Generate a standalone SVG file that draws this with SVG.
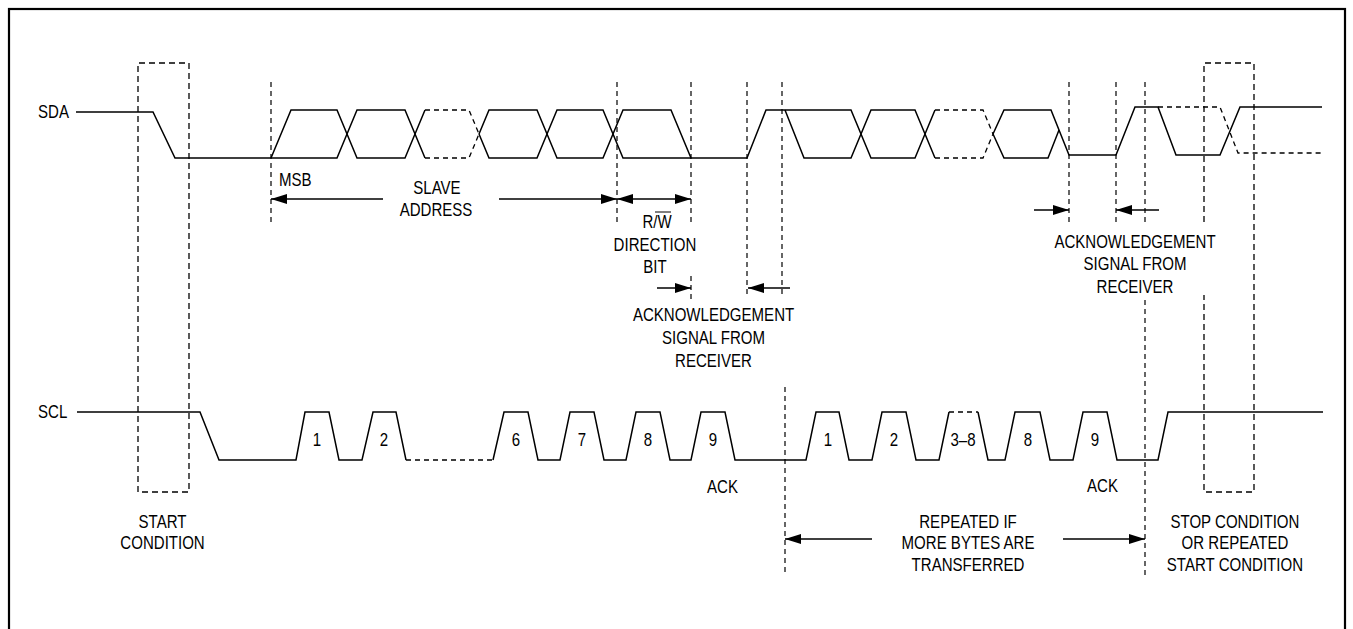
<svg xmlns="http://www.w3.org/2000/svg" width="1353" height="629" viewBox="0 0 1353 629">
<style>
.w{fill:none;stroke:#000;stroke-width:1.5;stroke-linejoin:miter}
.wd{fill:none;stroke:#000;stroke-width:1.3;stroke-dasharray:5 4}
.g{fill:none;stroke:#000;stroke-width:1.2;stroke-dasharray:5 4}
.bx{fill:none;stroke:#000;stroke-width:1.3;stroke-dasharray:6 4}
.a{fill:none;stroke:#000;stroke-width:1.3}
text{font-family:"Liberation Sans",Arial,sans-serif;font-size:17.5px;fill:#000}
.c{text-anchor:middle}
</style>
<defs>
<marker id="ah" viewBox="0 0 16 10" refX="16" refY="5" markerWidth="16" markerHeight="10" markerUnits="userSpaceOnUse" orient="auto-start-reverse">
<path d="M0,0 L16,5 L0,10 z" fill="#000"/>
</marker>
</defs>
<rect id="frame" x="9" y="9" width="1336" height="640" fill="#fff" stroke="#000" stroke-width="2.2"/>

<g id="start-box">
<path class="bx" d="M138,492 V63 H189 V492 H138"/>
</g>
<g id="stop-box">
<path class="bx" d="M1204,222 V63 H1254 V492 H1204 V295"/>
</g>

<g id="guides">
<line class="g" x1="271" y1="82" x2="271" y2="222"/>
<line class="g" x1="617" y1="82" x2="617" y2="222"/>
<line class="g" x1="691" y1="82" x2="691" y2="222"/>
<line class="g" x1="691" y1="276" x2="691" y2="302"/>
<line class="g" x1="747" y1="82" x2="747" y2="298"/>
<line class="g" x1="782" y1="82" x2="782" y2="298"/>
<line class="g" x1="785" y1="387" x2="785" y2="575"/>
<line class="g" x1="1069" y1="82" x2="1069" y2="223"/>
<line class="g" x1="1116" y1="82" x2="1116" y2="223"/>
<line class="g" x1="1145" y1="82" x2="1145" y2="223"/>
<line class="g" x1="1145" y1="300" x2="1145" y2="575"/>
</g>

<g id="sda">
<path class="w" d="M76,112 H153 L175,158 H337 L357,110 H405 L425,158"/>
<path class="w" d="M271,158 L291,110 H337 L357,158 H405 L425,110"/>
<path class="wd" d="M425,110 H469 L479,134 M425,158 H469 L479,134"/>
<path class="w" d="M479,134 L489,110 H537 L557,158 H603 L623,110 H671 L691,158 H747 L766,110 H851 L871,158 H915 L935,110"/>
<path class="w" d="M479,134 L489,158 H537 L557,110 H603 L623,158 H691"/>
<path class="w" d="M785,110 L804,158 H851 L871,110 H915 L935,158"/>
<path class="wd" d="M935,110 H983 L993,134 M935,158 H983 L993,134"/>
<path class="w" d="M993,134 L1004,110 H1051 L1069,155 H1116 L1135,107 H1158 L1176,155 H1220 L1240,107 H1322"/>
<path class="w" d="M993,134 L1004,158 H1048 L1059,130"/>
<path class="wd" d="M1158,107 H1220 L1238,153 H1322"/>
<text transform="scale(0.86,1)" x="44.2" y="118">SDA</text>
</g>

<g id="scl">
<path class="w" d="M77,412 H200 L219,460 H296 L305,412 H329 L339,460 H362 L373,412 H396 L406,460"/>
<path class="wd" d="M406,460 H493"/>
<path class="w" d="M493,460 L504,412 H528 L538,460 H560 L570,412 H594 L604,460 H626 L636,412 H660 L670,460 H691 L701,412 H725 L735,460 H806 L816,412 H839 L849,460 H872 L882,412 H906 L916,460 H939 L949,412"/>
<path class="wd" d="M949,412 H978"/>
<path class="w" d="M978,412 L988,460 H1005 L1015,412 H1040 L1050,460 H1073 L1083,412 H1107 L1117,460 H1158 L1168,412 H1323"/>
<g id="scl-texts" transform="scale(0.86,1)">
<text x="44.2" y="418">SCL</text>
<text class="c" x="368.6" y="446">1</text>
<text class="c" x="446.5" y="446">2</text>
<text class="c" x="600" y="446">6</text>
<text class="c" x="676.7" y="446">7</text>
<text class="c" x="753.5" y="446">8</text>
<text class="c" x="829.1" y="446">9</text>
<text class="c" x="962.8" y="446">1</text>
<text class="c" x="1039.5" y="446">2</text>
<text class="c" x="1119.8" y="446">3–8</text>
<text class="c" x="1195.3" y="446">8</text>
<text class="c" x="1273.3" y="446">9</text>
</g>
</g>

<g id="connectors">
<line class="a" x1="383" y1="199" x2="271" y2="199" marker-end="url(#ah)"/>
<line class="a" x1="499" y1="199" x2="617" y2="199" marker-end="url(#ah)"/>
<line class="a" x1="617" y1="199" x2="691" y2="199" marker-start="url(#ah)" marker-end="url(#ah)"/>
<line class="a" x1="657" y1="288" x2="691" y2="288" marker-end="url(#ah)"/>
<line class="a" x1="790" y1="288" x2="748" y2="288" marker-end="url(#ah)"/>
<line class="a" x1="1034" y1="210" x2="1069" y2="210" marker-end="url(#ah)"/>
<line class="a" x1="1159" y1="210" x2="1116" y2="210" marker-end="url(#ah)"/>
<line class="a" x1="872" y1="539" x2="785" y2="539" marker-end="url(#ah)"/>
<line class="a" x1="1063" y1="539" x2="1145" y2="539" marker-end="url(#ah)"/>
</g>

<g id="labels">
<line x1="655" y1="212" x2="671" y2="212" stroke="#000" stroke-width="1"/>
<g transform="scale(0.86,1)">
<text x="324.4" y="186.5">MSB</text>
<text class="c" x="508.1" y="194">SLAVE</text>
<text class="c" x="507" y="216">ADDRESS</text>
<text class="c" x="764" y="228">R/W</text>
<text class="c" x="761.6" y="251">DIRECTION</text>
<text class="c" x="761.6" y="273">BIT</text>
<text class="c" x="829.7" y="321">ACKNOWLEDGEMENT</text>
<text class="c" x="829.7" y="344">SIGNAL FROM</text>
<text class="c" x="829.7" y="367">RECEIVER</text>
<text class="c" x="1319.8" y="248">ACKNOWLEDGEMENT</text>
<text class="c" x="1319.8" y="270.5">SIGNAL FROM</text>
<text class="c" x="1319.8" y="293">RECEIVER</text>
<text class="c" x="189" y="528">START</text>
<text class="c" x="189" y="549">CONDITION</text>
<text class="c" x="840.1" y="493">ACK</text>
<text class="c" x="1282" y="492">ACK</text>
<text class="c" x="1125.6" y="528">REPEATED IF</text>
<text class="c" x="1125.6" y="549">MORE BYTES ARE</text>
<text class="c" x="1125.6" y="571">TRANSFERRED</text>
<text class="c" x="1436" y="528">STOP CONDITION</text>
<text class="c" x="1436" y="549">OR REPEATED</text>
<text class="c" x="1436" y="571">START CONDITION</text>
</g>
</g>
</svg>
